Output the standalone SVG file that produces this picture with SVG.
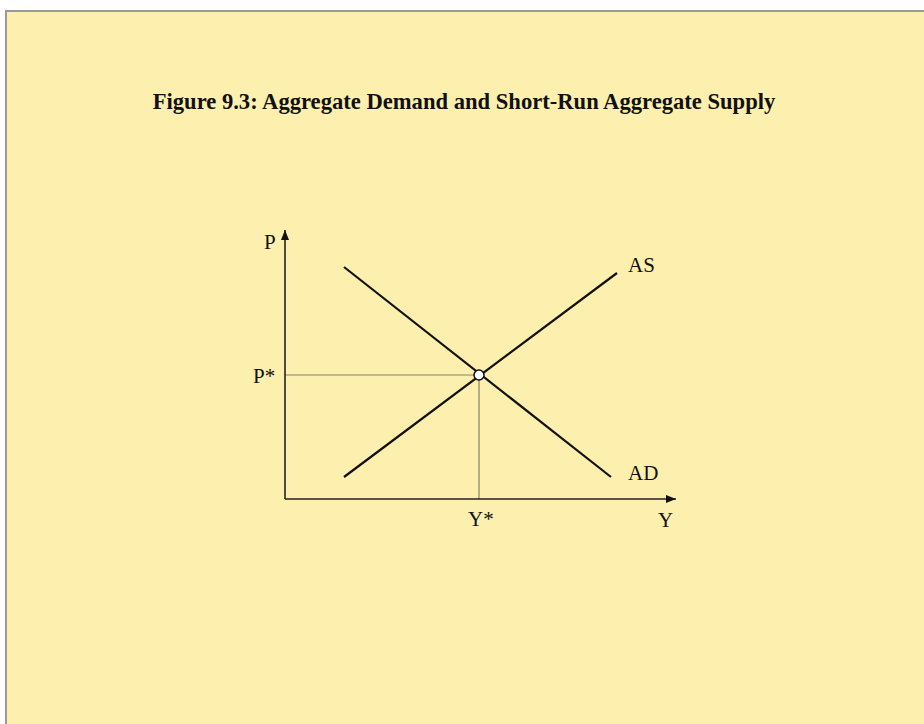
<svg xmlns="http://www.w3.org/2000/svg" width="924" height="724" viewBox="0 0 924 724">
<style>
.t{font-family:"Liberation Serif","Times New Roman",serif;font-size:21px;fill:#111}
.curve{stroke:#111;stroke-width:2.2;fill:none}
.guide{stroke:#8a8060;stroke-width:1.2;fill:none}
.axis{stroke:#222;stroke-width:1.6;fill:none}
</style>
<defs>
<marker id="ah" viewBox="0 0 10 10" refX="10" refY="5" markerWidth="10" markerHeight="10" markerUnits="userSpaceOnUse" orient="auto">
<path d="M0,1 L10,5 L0,9 Z" fill="#111"/>
</marker>
</defs>
<rect x="0" y="0" width="924" height="724" fill="#ffffff"/>
<rect x="6" y="11" width="930" height="730" fill="#FDF0AE" stroke="#9a9a9a" stroke-width="2"/>
<text class="t" x="464" y="109" text-anchor="middle" font-weight="bold" style="font-size:22.6px">Figure 9.3: Aggregate Demand and Short-Run Aggregate Supply</text>
<g id="connectors">
<line class="guide" x1="285" y1="375" x2="479" y2="375"/>
<line class="guide" x1="479" y1="375" x2="479" y2="499"/>
<line class="axis" x1="285" y1="499" x2="285" y2="230" marker-end="url(#ah)"/>
<line class="axis" x1="285" y1="499" x2="676" y2="499" marker-end="url(#ah)"/>
<line class="curve" x1="344" y1="267" x2="611" y2="477"/>
<line class="curve" x1="344" y1="477" x2="617" y2="273"/>
</g>
<g id="equilibrium"><circle cx="479" cy="375" r="5" fill="#fff" stroke="#111" stroke-width="1.5"/></g>
<g id="labels">
<text class="t" x="264" y="249">P</text>
<text class="t" x="253" y="383">P*</text>
<text class="t" x="628" y="272">AS</text>
<text class="t" x="628" y="480">AD</text>
<text class="t" x="658" y="527">Y</text>
<text class="t" x="468" y="526">Y*</text>
</g>
</svg>
